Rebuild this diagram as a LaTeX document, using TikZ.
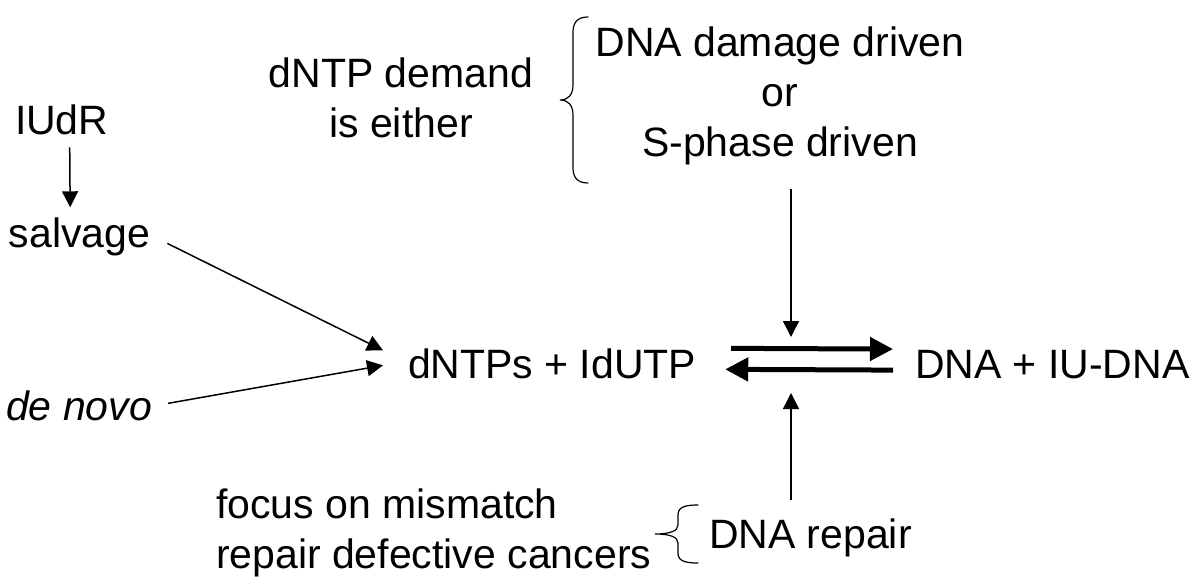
\documentclass[tikz,border=0pt]{standalone}
\usepackage{fontspec}
\setmainfont{Liberation Sans}
\usetikzlibrary{arrows.meta,calc}
\tikzset{
  txt/.style={font=\fontsize{41}{50}\selectfont, inner sep=0pt, outer sep=0pt},
  thinarr/.style={-{Triangle[length=16pt,width=16pt]}, line width=1.5pt},
  thickarr/.style={-{Triangle[length=23pt,width=23pt]}, line width=5pt},
  bracepath/.style={line width=1.2pt, line cap=round}
}
\begin{document}
\begin{tikzpicture}[x=1pt,y=-1pt]
\fill[white] (0,0) rectangle (1200,583);
\useasboundingbox (0,0) rectangle (1200,583);
% nodes
\node[txt, anchor=base west] (iudr) at (15,135) {IUdR};
\node[txt, anchor=base west] (salvage) at (9,247) {salvage};
\node[txt, anchor=base east] (denovo) at (152,420) {\itshape de novo};
\node[txt, anchor=base west] (dntps) at (408,378) {dNTPs + IdUTP};
\node[txt, anchor=base west] (dna) at (915,378) {DNA + IU-DNA};
\node[txt, align=center] (demand) at (401,98) {dNTP demand\\is either};
\node[txt, align=center] (damage) at (780,96) {DNA damage driven\\or\\S-phase driven};
\node[txt, anchor=base west] (repair) at (709,548) {DNA repair};
\node[txt, align=left, anchor=west] (focus) at (216,533) {focus on mismatch\\repair defective cancers};
\coordinate (rxn) at (791,362.5);
% connectors
\draw[thinarr] ([xshift=8pt,yshift=-12pt]iudr.south) -- ([xshift=-9.5pt,yshift=10pt]salvage.north);
\draw[thinarr] ($(salvage.east)+(17,7)$) -- ($(dntps.west)+(-25,-13)$);
\draw[thinarr] ($(denovo.east)+(16,-2)$) -- ($(dntps.west)+(-25,2)$);
\draw[thickarr] ($(dntps.east)+(35,-15)$) -- ($(dna.west)+(-22,-15)$);
\draw[thickarr] ($(dna.west)+(-22,6)$) -- ($(dntps.east)+(29,6)$);
\draw[thinarr] ($(damage.south -| rxn)+(0,24)$) -- ($(rxn)+(0,-25.5)$);
\draw[thinarr] ($(repair.north -| rxn)+(0,-18)$) -- ($(rxn)+(0,30.5)$);
% braces
\draw[bracepath] (588,17) .. controls (578,17) and (573,22) .. (573,32) -- (573,85)
  .. controls (573,95) and (568,100) .. (560,100)
  .. controls (568,100) and (573,105) .. (573,115) -- (573,168)
  .. controls (573,178) and (578,183) .. (588,183);
\draw[bracepath] (698,505) .. controls (685,505) and (678,507) .. (678,515) -- (678,525)
  .. controls (678,531) and (670,534) .. (655,534)
  .. controls (670,534) and (678,537) .. (678,543) -- (678,553)
  .. controls (678,561) and (685,563) .. (698,563);
\end{tikzpicture}
\end{document}
